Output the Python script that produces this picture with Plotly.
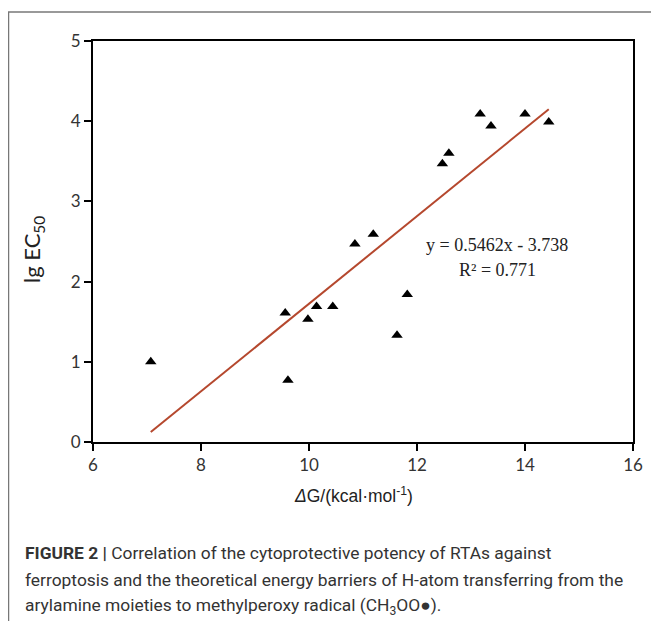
import plotly.graph_objects as go

# ---- data ----
dG = [7.07, 9.56, 9.61, 9.98, 10.14, 10.44, 10.85, 11.19, 11.63, 11.82,
      12.47, 12.59, 13.17, 13.37, 14.00, 14.44]
lgEC50 = [1.00, 1.61, 0.77, 1.53, 1.69, 1.69, 2.47, 2.59, 1.33, 1.84,
          3.47, 3.60, 4.09, 3.94, 4.09, 3.99]
slope = 0.5462
intercept = -3.738
r2 = 0.771
x_ticks = [6, 8, 10, 12, 14, 16]
y_ticks = [0, 1, 2, 3, 4, 5]

OFF = 8  # page body margin in the browser
W, H = 659 - OFF, 621 - OFF
L, R, T, B = 93, 633, 41, 442  # plot area in window pixels


def px(x):
    return (x - L) / (R - L)


def py(y):
    return (B - y) / (B - T)


fit_x = [min(dG), max(dG)]
fit_y = [slope * v + intercept for v in fit_x]

fig = go.Figure()
fig.add_trace(go.Scatter(x=fit_x, y=fit_y, mode="lines",
                         line=dict(color="#b5482e", width=2),
                         hoverinfo="skip", showlegend=False))
fig.add_trace(go.Scatter(x=dG, y=lgEC50, mode="markers",
                         marker=dict(symbol="triangle-up", size=10, color="black"),
                         showlegend=False))

axis_common = dict(showgrid=False, zeroline=False, showline=True, linecolor="black",
                   linewidth=2, mirror=True, ticks="outside", ticklen=7, tickwidth=1.5,
                   tickcolor="black", tickfont=dict(family="Lato", size=17, color="#333"))
fig.update_xaxes(range=[6, 16], tickvals=x_ticks, **axis_common)
fig.update_yaxes(range=[0, 5], tickvals=y_ticks, **axis_common)


def note(text, x, y, size, family, color="#222", xanchor="center", angle=0):
    return dict(text=text, x=px(x), y=py(y), xref="paper", yref="paper",
                xanchor=xanchor, yanchor="middle", textangle=angle, showarrow=False,
                font=dict(family=family, size=size, color=color))


ann = [
    note("y = %.4fx - %.3f" % (slope, -intercept), 497, 245, 18, "Liberation Serif"),
    note("R² = %.3f" % r2, 497, 270, 18, "Liberation Serif"),
    note("lg EC<sub>50</sub>", 33, 250, 22, "Lato", angle=-90),
    note("<i>Δ</i>G/(kcal·mol<sup>-1</sup>)", 353, 495, 17.5, "Liberation Sans"),
]
cap = ["<b>FIGURE 2 |</b> Correlation of the cytoprotective potency of RTAs against",
       "ferroptosis and the theoretical energy barriers of H-atom transferring from the",
       "arylamine moieties to methylperoxy radical (CH<sub>3</sub>OO●)."]
for i, line in enumerate(cap):
    ann.append(note(line, 23, 553 + 26.5 * i, 17.4, "Roboto", color="#333", xanchor="left"))

shapes = [
    dict(type="line", xref="paper", yref="paper", x0=px(8), x1=px(659), y0=py(12), y1=py(12),
         line=dict(color="#777", width=1.5)),
    dict(type="line", xref="paper", yref="paper", x0=px(8.5), x1=px(8.5), y0=py(12), y1=py(621),
         line=dict(color="#777", width=1.5)),
]

fig.update_layout(width=W, height=H,
                  margin=dict(l=L - OFF, r=W - (R - OFF), t=T - OFF, b=H - (B - OFF)),
                  plot_bgcolor="white", paper_bgcolor="white",
                  annotations=ann, shapes=shapes, showlegend=False)
fig.write_html("out.html")
